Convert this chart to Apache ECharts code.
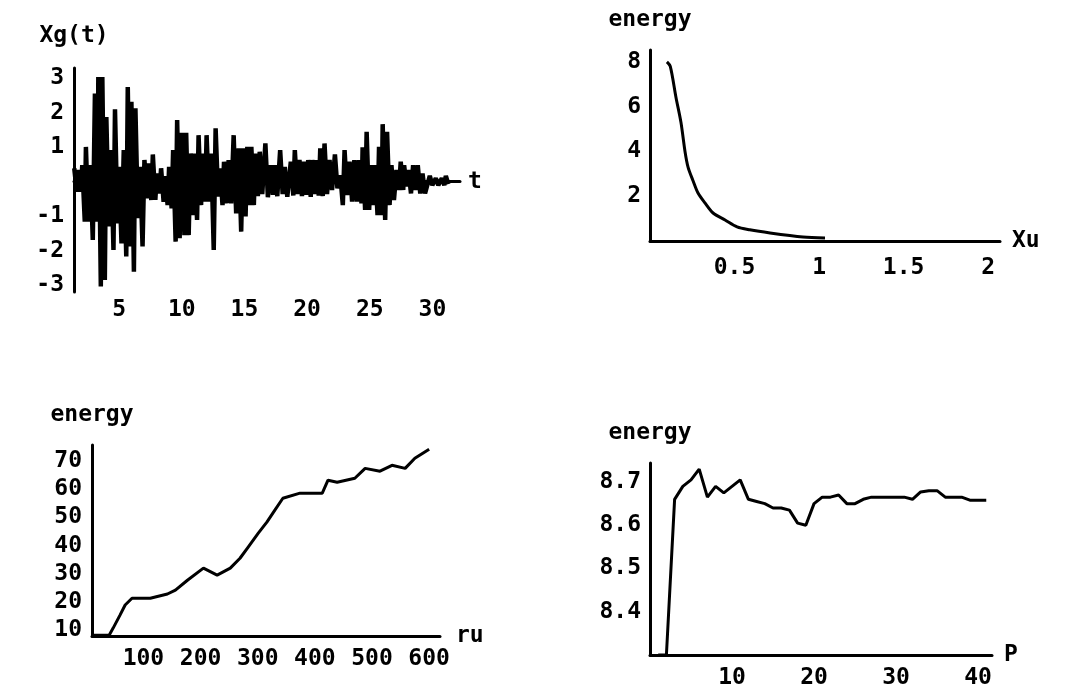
<!DOCTYPE html>
<html>
<head>
<meta charset="utf-8">
<title>energy plots</title>
<script src="https://cdn.jsdelivr.net/npm/echarts@6/dist/echarts.min.js"></script>
<style>
  html, body { margin: 0; padding: 0; background: #fff; }
  #chart { width: 1065px; height: 694px; }
</style>
</head>
<body>
<div id="chart"></div>
<script>
// ground acceleration Xg(t): one high and one low value read per small time slice
const xgTime = [1.52, 1.84, 2.16, 2.45, 2.80, 3.17, 3.44, 3.76, 4.08, 4.45, 4.77, 5.09, 5.47, 5.79, 6.08, 6.40, 6.77,
  7.12, 7.47, 7.79, 8.11, 8.45, 8.77, 9.09, 9.41, 9.73, 10.11, 10.45, 10.80, 11.12, 11.44, 11.76, 12.08, 12.45,
  12.80, 13.15, 13.47, 13.84, 14.24, 14.64, 14.99, 15.33, 15.65, 15.97, 16.32, 16.77, 17.17, 17.52, 17.95, 18.32,
  18.80, 19.12, 19.49, 19.84, 20.19, 20.51, 20.83, 21.15, 21.49, 21.89, 22.32, 22.75, 23.09, 23.49, 23.87, 24.24,
  24.53, 24.85, 25.20, 25.52, 25.84, 26.13, 26.48, 26.83, 27.23, 27.57, 27.84, 28.19, 28.56, 28.93, 29.31, 29.89,
  30.37, 30.85, 31.17]
const xgHigh = [0.39, 0.34, 0.48, 1.01, 0.48, 2.56, 3.04, 3.04, 1.88, 0.92, 2.10, 0.43, 0.92, 2.75, 2.32, 2.13, 0.43,
  0.63, 0.53, 0.79, 0.24, 0.39, 0.16, 0.43, 0.92, 1.79, 1.42, 1.42, 0.82, 0.82, 1.35, 0.82, 1.35, 0.82,
  1.55, 0.39, 0.58, 0.63, 1.35, 0.97, 0.97, 1.01, 1.01, 0.82, 0.87, 1.11, 0.48, 0.48, 0.92, 0.43,
  0.58, 0.92, 0.63, 0.58, 0.63, 0.63, 0.63, 0.97, 1.11, 0.63, 0.79, 0.19, 0.92, 0.58, 0.63, 0.63,
  1.00, 1.45, 0.48, 0.48, 1.01, 1.67, 1.45, 0.48, 0.34, 0.58, 0.48, 0.34, 0.48, 0.48, 0.24, 0.17,
  0.10, 0.10, 0.17]
const xgLow = [-0.29, -0.29, -1.16, -1.16, -1.69, -1.16, -3.04, -2.85, -1.30, -1.98, -1.21, -1.79, -2.17, -1.88, -2.61, -1.06, -1.88,
  -0.48, -0.53, -0.53, -0.34, -0.58, -0.68, -0.77, -1.74, -1.64, -1.55, -1.55, -0.97, -1.11, -0.68, -0.58, -0.58, -1.98,
  -0.43, -0.68, -0.63, -0.63, -0.92, -1.45, -1.01, -0.68, -0.68, -0.42, -0.36, -0.45, -0.38, -0.42, -0.36, -0.44,
  -0.40, -0.36, -0.42, -0.38, -0.44, -0.36, -0.40, -0.42, -0.36, -0.24, -0.19, -0.68, -0.39, -0.58, -0.58, -0.63,
  -0.82, -0.82, -0.68, -0.97, -0.97, -1.11, -0.68, -0.53, -0.24, -0.24, -0.14, -0.34, -0.24, -0.34, -0.34, -0.10,
  -0.10, -0.10, -0.07]
const xgXTicks = [5, 10, 15, 20, 25, 30]
const xgYTicks = [-3, -2, -1, 1, 2, 3]

// energy vs Xu
const xuValues = [0.10, 0.12, 0.154, 0.183, 0.207, 0.225, 0.254, 0.284, 0.325, 0.373, 0.444, 0.515, 0.59, 0.71, 0.905, 1.035]
const xuEnergy = [8.0, 7.8, 6.4, 5.3, 4.0, 3.3, 2.7, 2.14, 1.7, 1.25, 0.94, 0.63, 0.5, 0.36, 0.18, 0.13]
const xuXTicks = [0.5, 1, 1.5, 2]
const xuYTicks = [2, 4, 6, 8]

// energy vs ru
const ruValues = [10, 40, 47, 59, 68, 80, 112, 142, 156, 177, 205, 229, 252, 269, 283, 301, 316, 330, 344, 374,
  413, 423, 439, 470, 488, 514, 535, 558, 575, 600]
const ruEnergy = [8.2, 8.2, 10.7, 15.3, 18.9, 21.3, 21.3, 22.8, 24.2, 27.7, 32, 29.5, 32, 35.5, 39.4, 44.4, 48.3, 52.6, 56.8, 58.6,
  58.6, 63.2, 62.5, 63.9, 67.4, 66.4, 68.5, 67.4, 71, 74.2]
const ruXTicks = [100, 200, 300, 400, 500, 600]
const ruYTicks = [10, 20, 30, 40, 50, 60, 70]

// energy vs P
const pValues = [1, 2, 3, 4, 5, 6, 7, 8, 9, 10, 11, 12, 13, 14, 15, 16, 17, 18, 19, 20, 21,
  22, 23, 24, 25, 26, 27, 28, 29, 30, 31, 32, 33, 34, 35, 36, 37, 38, 39, 40, 41]
const pEnergy = [8.30, 8.30, 8.66, 8.69, 8.705, 8.73, 8.665, 8.69, 8.675, 8.69, 8.705, 8.66, 8.655, 8.65, 8.64, 8.64, 8.635, 8.605, 8.60, 8.65, 8.665,
  8.665, 8.67, 8.65, 8.65, 8.66, 8.665, 8.665, 8.665, 8.665, 8.665, 8.66, 8.677, 8.68, 8.68, 8.665, 8.665, 8.665, 8.658, 8.658, 8.658]
const pXTicks = [10, 20, 30, 40]
const pYTicks = [8.4, 8.5, 8.6, 8.7]

const font = {
  fontFamily: 'DejaVu Sans Mono',
  fontWeight: 'bold',
  fontSize: 23,
  color: '#000'
}

const pair = (xs, ys) => xs.map((x, i) => [x, ys[i]])

// each slice becomes an up stroke then a down stroke, like the dense original trace
const xgData = []
xgTime.forEach((t, i) => {
  xgData.push([t - 0.1, xgHigh[i]])
  xgData.push([t + 0.1, xgLow[i]])
})

const xAxisOf = (gridIndex, min, max, ticks, name, margin, nameGap) => ({
  gridIndex,
  type: 'value',
  min,
  max,
  name,
  nameLocation: 'end',
  nameGap,
  nameTextStyle: font,
  axisLine: { show: true, onZero: true, lineStyle: { color: '#000', width: 3 } },
  axisTick: { show: false },
  splitLine: { show: false },
  axisLabel: { customValues: ticks, margin, ...font }
})

const yAxisOf = (gridIndex, min, max, ticks, name, margin, nameGap) => ({
  gridIndex,
  type: 'value',
  min,
  max,
  name,
  nameLocation: 'end',
  nameGap,
  nameTextStyle: font,
  axisLine: { show: true, onZero: true, lineStyle: { color: '#000', width: 3 } },
  axisTick: { show: false },
  splitLine: { show: false },
  axisLabel: { customValues: ticks, margin, ...font }
})

const lineOf = (index, data, width, smooth) => ({
  type: 'line',
  xAxisIndex: index,
  yAxisIndex: index,
  data,
  smooth,
  showSymbol: false,
  lineStyle: { color: '#000', width },
  clip: true
})

const chart = echarts.init(document.getElementById('chart'))
chart.setOption({
  animation: false,
  backgroundColor: '#fff',
  grid: [
    { left: 74, top: 68, width: 386, height: 224 },
    { left: 650, top: 50, width: 350, height: 191 },
    { left: 92, top: 445, width: 348, height: 191 },
    { left: 650, top: 463, width: 342, height: 192 }
  ],
  xAxis: [
    xAxisOf(0, 1.4, 32.2, xgXTicks, 't', 7, 8),
    xAxisOf(1, 0, 2.07, xuXTicks, 'Xu', 16, 12),
    xAxisOf(2, 10, 619, ruXTicks, 'ru', 12, 16),
    xAxisOf(3, 0, 41.7, pXTicks, 'P', 12, 12)
  ],
  yAxis: [
    yAxisOf(0, -3.2, 3.3, xgYTicks, 'Xg(t)', 10, 20),
    yAxisOf(1, 0, 8.53, xuYTicks, 'energy', 9, 18),
    yAxisOf(2, 7.9, 75.7, ruYTicks, 'energy', 10, 18),
    yAxisOf(3, 8.3, 8.744, pYTicks, 'energy', 9, 18)
  ],
  series: [
    lineOf(0, xgData, 4.5, false),
    lineOf(1, pair(xuValues, xuEnergy), 3, 0.3),
    lineOf(2, pair(ruValues, ruEnergy), 3, false),
    lineOf(3, pair(pValues, pEnergy), 3, false)
  ]
})
</script>
</body>
</html>
